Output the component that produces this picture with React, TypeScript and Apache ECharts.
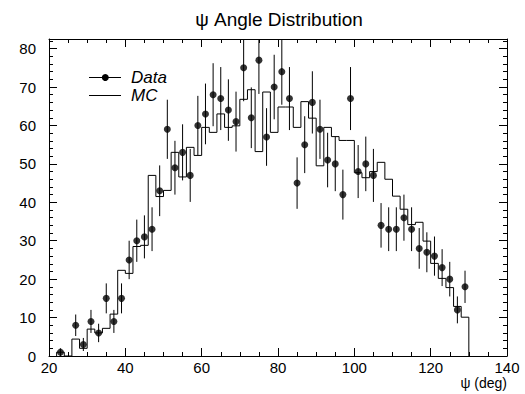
import React, { useEffect, useRef } from "react";
import * as echarts from "echarts";

// Data points (bin centres, counts, Poisson errors)
const dataX = [23, 27, 29, 31, 33, 35, 37, 39, 41, 43, 45, 47, 49, 51, 53, 55, 57, 59, 61, 63, 65, 67, 69, 71, 73, 75, 77, 79, 81, 83, 85, 87, 89, 91, 93, 95, 97, 99, 101, 103, 105, 107, 109, 111, 113, 115, 117, 119, 121, 123, 125, 127, 129];
const dataY = [1, 8, 3, 9, 6, 15, 9, 15, 25, 30, 31, 33, 43, 59, 49, 53, 47, 60, 63, 68, 67, 64, 61, 75, 62, 77, 57, 70, 74, 67, 45, 55, 66, 59, 51, 50, 42, 67, 48, 50, 47, 34, 33, 33, 36, 33, 28, 27, 26, 23, 20, 12, 18];
const dataErr = [1.0, 2.8, 1.7, 3.0, 2.4, 3.9, 3.0, 3.9, 5.0, 5.5, 5.6, 5.7, 6.6, 7.7, 7.0, 7.3, 6.9, 7.7, 7.9, 8.2, 8.2, 8.0, 7.8, 8.7, 7.9, 8.8, 7.5, 8.4, 8.6, 8.2, 6.7, 7.4, 8.1, 7.7, 7.1, 7.1, 6.5, 8.2, 6.9, 7.1, 6.9, 5.8, 5.7, 5.7, 6.0, 5.7, 5.3, 5.2, 5.1, 4.8, 4.5, 3.5, 4.2];

// MC histogram (bin edges and contents)
const mcEdges = [22, 24, 26, 28, 30, 32, 34, 36, 38, 40, 42, 44, 46, 48, 50, 52, 54, 56, 58, 60, 62, 64, 66, 68, 70, 72, 74, 76, 78, 80, 82, 84, 86, 88, 90, 92, 94, 96, 98, 100, 102, 104, 106, 108, 110, 112, 114, 116, 118, 120, 122, 124, 126, 128, 130];
const mcValues = [1, 0, 4.4, 2, 7, 6, 7.2, 10.9, 22.3, 21.5, 28.5, 28.8, 47, 41.5, 43.1, 53, 46.6, 54.3, 52.2, 59.5, 58.2, 63, 59.5, 59.9, 66.8, 69.3, 53.2, 68.7, 58.2, 64.8, 64.8, 59.5, 66.2, 61.9, 49.5, 59.5, 57.1, 56.1, 56.1, 47.7, 46.4, 48, 50.4, 46, 41.6, 38.2, 34.2, 34.8, 29.9, 24.1, 20.2, 17.8, 12.9, 10.1];

const X_MIN = 20;
const X_MAX = 140;
const X_INTERVAL = 20;
const Y_MIN = 0;
const Y_MAX = 82.5;
const Y_INTERVAL = 10;

const TITLE = "ψ Angle Distribution";
const X_NAME = "ψ (deg)";
const LEGEND = ["Data", "MC"];

const FONT = "Liberation Sans, Arial, Helvetica, sans-serif";

export default function App() {
  const ref = useRef<HTMLDivElement>(null);

  useEffect(() => {
    document.body.style.margin = "0";
    if (!ref.current) return;
    const chart = echarts.init(ref.current, null, { renderer: "svg" });

    // step data for the MC histogram
    const mcLine: number[][] = [[mcEdges[0], 0]];
    for (let i = 0; i < mcValues.length; i++) {
      mcLine.push([mcEdges[i + 1], mcValues[i]]);
    }
    mcLine.push([mcEdges[mcEdges.length - 1], 0]);

    const pts = dataX.map((x, i) => [x, dataY[i], dataErr[i]]);

    const axisCommon = {
      axisLine: { show: true, onZero: false, lineStyle: { color: "#000", width: 1 } },
      splitLine: { show: false },
    };
    const tick = { show: true, inside: true, length: 8, lineStyle: { color: "#000", width: 1 } };

    const option: any = {
      animation: false,
      backgroundColor: "#fff",
      grid: { left: 49, right: 18, top: 39, bottom: 38, containLabel: false },
      xAxis: [
        {
          type: "value",
          min: X_MIN,
          max: X_MAX,
          interval: X_INTERVAL,
          position: "bottom",
          ...axisCommon,
          axisTick: tick,
          minorTick: { show: true, splitNumber: 4, length: 4, lineStyle: { color: "#000" } },
          axisLabel: { color: "#000", fontSize: 15, fontFamily: FONT, margin: 4 },
        },
        {
          type: "value",
          min: X_MIN,
          max: X_MAX,
          interval: X_INTERVAL,
          position: "top",
          ...axisCommon,
          axisTick: tick,
          minorTick: { show: true, splitNumber: 4, length: 4, lineStyle: { color: "#000" } },
          axisLabel: { show: false },
        },
      ],
      yAxis: [
        {
          type: "value",
          min: Y_MIN,
          max: Y_MAX,
          interval: Y_INTERVAL,
          position: "left",
          ...axisCommon,
          axisTick: tick,
          minorTick: { show: true, splitNumber: 5, length: 4, lineStyle: { color: "#000" } },
          axisLabel: {
            color: "#000",
            fontSize: 15,
            fontFamily: FONT,
            margin: 13,
            showMaxLabel: false,
            formatter: (v: number) => (v % Y_INTERVAL === 0 ? String(v) : ""),
          },
        },
        {
          type: "value",
          min: Y_MIN,
          max: Y_MAX,
          interval: Y_INTERVAL,
          position: "right",
          ...axisCommon,
          axisTick: tick,
          minorTick: { show: true, splitNumber: 5, length: 4, lineStyle: { color: "#000" } },
          axisLabel: { show: false },
        },
      ],
      series: [
        {
          name: "MC",
          type: "line",
          step: "start",
          data: mcLine,
          xAxisIndex: 0,
          yAxisIndex: 0,
          symbol: "none",
          lineStyle: { color: "#000", width: 1 },
          z: 2,
        },
        {
          name: "DataErr",
          type: "custom",
          xAxisIndex: 0,
          yAxisIndex: 0,
          data: pts,
          encode: { x: 0, y: 1 },
          renderItem: (params: any, api: any) => {
            const x = api.value(0);
            const y = api.value(1);
            const e = api.value(2);
            const lo = Math.max(y - e, Y_MIN);
            const hi = Math.min(y + e, Y_MAX);
            const p1 = api.coord([x, lo]);
            const p2 = api.coord([x, hi]);
            return {
              type: "line",
              shape: { x1: p1[0], y1: p1[1], x2: p2[0], y2: p2[1] },
              style: { stroke: "#000", lineWidth: 1 },
            };
          },
          z: 3,
        },
        {
          name: "Data",
          type: "scatter",
          xAxisIndex: 0,
          yAxisIndex: 0,
          data: pts.map((p) => [p[0], p[1]]),
          symbol: "circle",
          symbolSize: 7,
          itemStyle: { color: "#000" },
          z: 4,
        },
      ],
      graphic: [
        {
          type: "text",
          x: 279,
          y: 19,
          style: { text: TITLE, font: `19px ${FONT}`, fill: "#000", textAlign: "center", textVerticalAlign: "middle" },
        },
        {
          type: "text",
          x: 507,
          y: 383,
          style: { text: X_NAME, font: `14px ${FONT}`, fill: "#000", textAlign: "right", textVerticalAlign: "middle" },
        },
        {
          type: "line",
          shape: { x1: 89, y1: 77.5, x2: 121, y2: 77.5 },
          style: { stroke: "#000", lineWidth: 1 },
        },
        {
          type: "circle",
          shape: { cx: 105.3, cy: 77.5, r: 3.5 },
          style: { fill: "#000" },
        },
        {
          type: "text",
          x: 131,
          y: 77,
          style: { text: LEGEND[0], font: `italic 17px ${FONT}`, fill: "#000", textAlign: "left", textVerticalAlign: "middle" },
        },
        {
          type: "line",
          shape: { x1: 89, y1: 95.5, x2: 121, y2: 95.5 },
          style: { stroke: "#000", lineWidth: 1 },
        },
        {
          type: "text",
          x: 131,
          y: 95.8,
          style: { text: LEGEND[1], font: `italic 17px ${FONT}`, fill: "#000", textAlign: "left", textVerticalAlign: "middle" },
        },
      ],
    };

    chart.setOption(option);
    return () => chart.dispose();
  }, []);

  return <div ref={ref} style={{ width: 525, height: 394 }} />;
}
